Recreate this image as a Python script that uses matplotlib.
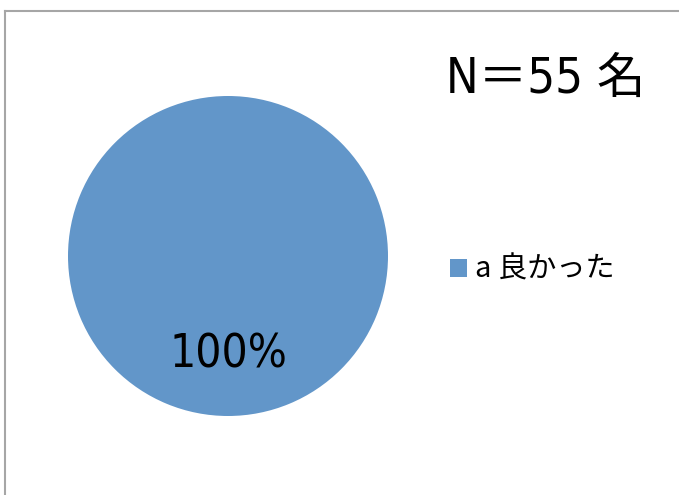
import matplotlib.pyplot as plt
from matplotlib.lines import Line2D

# data
labels = ['a 良かった']
values = [55]
title = 'N＝55 名'
colors = ['#6296C9']

W, H = 679, 495
fig = plt.figure(figsize=(W / 100, H / 100), dpi=100)

narrow = ['DejaVu Sans', 'Noto Sans CJK JP']
cjk = ['Noto Sans CJK JP', 'DejaVu Sans']

# frame (left and top edges visible)
fig.add_artist(Line2D([4.5 / W, 4.5 / W], [0, 1 - 10.5 / H], transform=fig.transFigure,
                      color='#A6A6A6', lw=1.5))
fig.add_artist(Line2D([4.5 / W, 1], [1 - 10.5 / H, 1 - 10.5 / H], transform=fig.transFigure,
                      color='#A6A6A6', lw=1.5))

ax = fig.add_axes([68 / W, 1 - 416 / H, 320 / W, 320 / H])
wedges, texts, autotexts = ax.pie(values, colors=colors, startangle=90, counterclock=False,
                                  radius=1, autopct='%1.0f%%', pctdistance=0.62,
                                  textprops={'fontsize': 33, 'family': narrow,
                                             'fontstretch': 'condensed'})
ax.set_xlim(-1, 1)
ax.set_ylim(-1, 1)
ax.axis('off')

fig.text(446 / W, 1 - 93 / H, title, fontsize=35, family=narrow, fontstretch='condensed',
         ha='left', va='baseline')

fig.legend(wedges, labels, loc='center left', bbox_to_anchor=(450 / W, 1 - 270 / H),
           frameon=False, prop={'family': cjk, 'size': 21},
           handlelength=0.57, handleheight=0.57, handletextpad=0.3, borderpad=0, borderaxespad=0)

fig.savefig('out.png', dpi=100)
